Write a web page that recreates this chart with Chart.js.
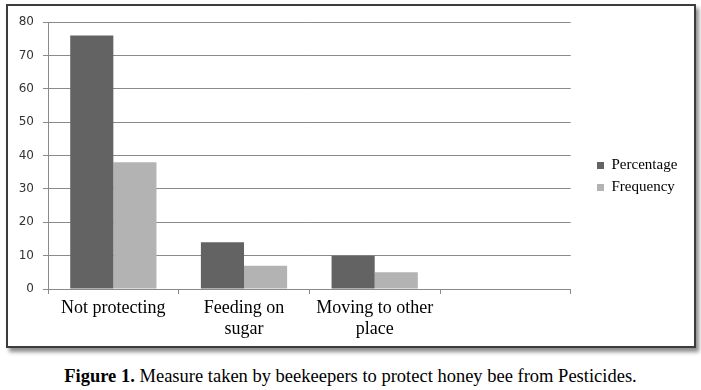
<!DOCTYPE html>
<html>
<head>
<meta charset="utf-8">
<script src="https://cdn.jsdelivr.net/npm/chart.js@4.4.0/dist/chart.umd.min.js"></script>
<style>
  html, body { margin: 0; padding: 0; background: #fff; width: 701px; height: 390px; overflow: hidden; }
  #frame { position: absolute; left: 6px; top: 4px; width: 686px; height: 340px;
           border: 2px solid #3c3c3c; box-shadow: 3px 4px 4px rgba(0,0,0,0.45); background: #fff; }
  #frame canvas { display: block; }
  #caption { position: absolute; left: 0; top: 366px; width: 701px; text-align: center;
             font-family: "Liberation Serif", "Times New Roman", serif; font-size: 18.5px; color: #000; }
</style>
</head>
<body>
<div id="frame"><canvas id="c" width="686" height="340"></canvas></div>
<div id="caption"><b>Figure 1.</b> Measure taken by beekeepers to protect honey bee from Pesticides.</div>
<script>
const categories = [["Not protecting"], ["Feeding on", "sugar"], ["Moving to other", "place"], [""]];
const percentage = [76, 14, 10, null];
const frequency = [38, 7, 5, null];
const yTicks = [0, 10, 20, 30, 40, 50, 60, 70, 80];

const legendPlacer = {
  id: 'legendPlacer',
  afterLayout(chart) {
    const lg = chart.legend;
    const w = lg.width, h = lg.height;
    lg.left = 582; lg.right = lg.left + w;
    lg.top = 145; lg.bottom = lg.top + h;
  }
};

new Chart(document.getElementById('c'), {
  type: 'bar',
  data: {
    labels: categories,
    datasets: [
      { label: 'Percentage', data: percentage, backgroundColor: '#636363', borderWidth: 0 },
      { label: 'Frequency', data: frequency, backgroundColor: '#b3b3b3', borderWidth: 0 }
    ]
  },
  options: {
    responsive: false,
    animation: false,
    layout: { padding: { top: 14, right: 26, left: 0, bottom: 0 } },
    datasets: { bar: { categoryPercentage: 0.66, barPercentage: 1.0 } },
    plugins: {
      tooltip: { enabled: false },
      legend: {
        position: 'right',
        align: 'start',
        labels: {
          boxWidth: 7, boxHeight: 7, padding: 7,
          color: '#000',
          font: { family: '"Liberation Serif", "Times New Roman", serif', size: 15 }
        }
      }
    },
    scales: {
      x: {
        grid: { offset: true, drawOnChartArea: false, drawTicks: true, tickLength: 5, color: '#8a8a8a' },
        border: { color: '#8a8a8a' },
        ticks: {
          color: '#000', padding: 4, maxRotation: 0, autoSkip: false,
          font: { family: '"Liberation Serif", "Times New Roman", serif', size: 18, lineHeight: 1.15 }
        },
        afterFit(scale) { scale.height = 57; }
      },
      y: {
        min: 0, max: 80,
        afterBuildTicks(scale) { scale.ticks = yTicks.map(v => ({ value: v })); },
        grid: { color: '#8a8a8a', tickLength: 5 },
        border: { color: '#8a8a8a' },
        ticks: {
          color: '#333', padding: 9,
          font: { family: '"DejaVu Sans", Verdana, sans-serif', size: 12 }
        },
        afterFit(scale) { scale.width = 40; }
      }
    }
  },
  plugins: [legendPlacer]
});
</script>
</body>
</html>
